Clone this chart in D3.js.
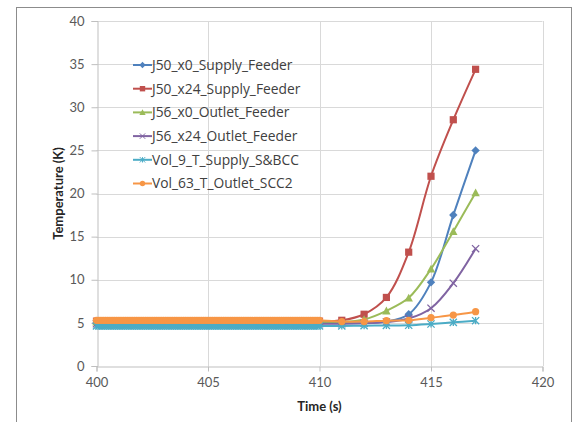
<!DOCTYPE html>
<html>
<head>
<meta charset="utf-8">
<script src="https://cdn.jsdelivr.net/npm/d3@7"></script>
<style>
  html, body { margin: 0; padding: 0; background: #fff; }
  svg { display: block; font-family: Lato, "Open Sans", sans-serif; }
</style>
</head>
<body>
<svg id="chart" width="574" height="422"></svg>
<script>
// Series names (legend order)
const seriesNames = [
  "J50_x0_Supply_Feeder",
  "J50_x24_Supply_Feeder",
  "J56_x0_Outlet_Feeder",
  "J56_x24_Outlet_Feeder",
  "Vol_9_T_Supply_S&BCC",
  "Vol_63_T_Outlet_SCC2"
];

// Steady period 400–410 s, sampled every 0.1 s, at each series' constant level (K)
const steadyTimes = d3.range(0, 101).map(i => 400 + i / 10);
const steadyLevels = [4.95, 5.2, 5.1, 4.9, 4.65, 5.3];

// Transient period 411–417 s, one sample per second (K)
const transientTimes = [411, 412, 413, 414, 415, 416, 417];
const j50x0Supply   = [4.95, 5.0, 5.15, 6.0, 9.7, 17.5, 25.0];
const j50x24Supply  = [5.3, 6.0, 7.95, 13.2, 22.0, 28.55, 34.4];
const j56x0Outlet   = [5.1, 5.4, 6.4, 7.9, 11.25, 15.6, 20.1];
const j56x24Outlet  = [4.9, 4.95, 5.1, 5.5, 6.7, 9.6, 13.6];
const vol9Supply    = [4.65, 4.68, 4.7, 4.72, 4.87, 5.06, 5.25];
const vol63Outlet   = [5.15, 5.15, 5.25, 5.3, 5.6, 5.9, 6.3];
const transientValues = [j50x0Supply, j50x24Supply, j56x0Outlet, j56x24Outlet, vol9Supply, vol63Outlet];

// Axis ticks
const xTicks = [400, 405, 410, 415, 420];
const yTicks = [0, 5, 10, 15, 20, 25, 30, 35, 40];

const colors = ["#4F81BD", "#C0504D", "#9BBB59", "#8064A2", "#4BACC6", "#F79646"];
const markerKinds = ["diamond", "square", "triangle", "x", "star", "circle"];

const series = seriesNames.map((name, s) => ({
  name,
  color: colors[s],
  marker: markerKinds[s],
  points: steadyTimes.map(t => ({ t, v: steadyLevels[s] }))
    .concat(transientTimes.map((t, i) => ({ t, v: transientValues[s][i] })))
}));

const svg = d3.select("#chart");
const plot = { left: 96.5, right: 542.5, top: 21, bottom: 366 };

const x = d3.scaleLinear().domain([400, 420]).range([plot.left, plot.right]);
const y = d3.scaleLinear().domain([0, 40]).range([plot.bottom, plot.top]);

// Chart area frame
svg.append("rect")
  .attr("x", 16.5).attr("y", 7.5)
  .attr("width", 555).attr("height", 430)
  .attr("fill", "#fff").attr("stroke", "#8c8c8c").attr("stroke-width", 1);

// Gridlines
const grid = svg.append("g").attr("stroke", "#d9d9d9").attr("stroke-width", 1);
grid.selectAll("line.h").data(yTicks.filter(d => d > 0)).join("line")
  .attr("x1", plot.left).attr("x2", plot.right)
  .attr("y1", d => Math.round(y(d)) + 0.5).attr("y2", d => Math.round(y(d)) + 0.5);
grid.selectAll("line.v").data(xTicks.filter(d => d > 400)).join("line")
  .attr("y1", plot.top).attr("y2", plot.bottom)
  .attr("x1", d => Math.round(x(d)) + 0.5).attr("x2", d => Math.round(x(d)) + 0.5);

// Axes
const xAxis = d3.axisBottom(x).tickValues(xTicks).tickSize(5).tickPadding(6).tickFormat(d3.format("d"));
const yAxis = d3.axisLeft(y).tickValues(yTicks).tickSize(6).tickPadding(7).tickFormat(d3.format("d"));

const gx = svg.append("g").attr("transform", `translate(0,${Math.round(plot.bottom) + 0.5})`).call(xAxis);
const gy = svg.append("g").attr("transform", `translate(${Math.round(plot.left) + 0.5},0)`).call(yAxis);
[gx, gy].forEach(g => {
  g.select(".domain").attr("stroke", "#bfbfbf");
  g.selectAll(".tick line").attr("stroke", "#bfbfbf");
  g.selectAll(".tick text").attr("fill", "#595959").style("font-size", "13px").style("font-family", "Lato, sans-serif");
});

// Axis titles
svg.append("text")
  .attr("x", (plot.left + plot.right) / 2).attr("y", 411)
  .attr("text-anchor", "middle")
  .style("font-size", "13px").style("font-weight", "bold").attr("fill", "#262626")
  .text("Time (s)");
svg.append("text")
  .attr("transform", `translate(63,${(plot.top + plot.bottom) / 2}) rotate(-90)`)
  .attr("text-anchor", "middle")
  .style("font-size", "13px").style("font-weight", "bold").attr("fill", "#262626")
  .text("Temperature (K)");

// Marker drawing
function drawMarker(sel, kind, color) {
  const r = 3.6;
  if (kind === "diamond") {
    sel.append("path").attr("d", `M0,${-r - 0.6}L${r + 0.6},0L0,${r + 0.6}L${-r - 0.6},0Z`).attr("fill", color);
  } else if (kind === "square") {
    sel.append("rect").attr("x", -r).attr("y", -r).attr("width", 2 * r).attr("height", 2 * r).attr("fill", color);
  } else if (kind === "triangle") {
    sel.append("path").attr("d", `M0,${-r - 0.6}L${r + 0.6},${r}L${-r - 0.6},${r}Z`).attr("fill", color);
  } else if (kind === "x") {
    sel.append("path").attr("d", `M${-r},${-r}L${r},${r}M${-r},${r}L${r},${-r}`)
      .attr("stroke", color).attr("stroke-width", 1.3).attr("fill", "none");
  } else if (kind === "star") {
    sel.append("path").attr("d", `M${-r},${-r}L${r},${r}M${-r},${r}L${r},${-r}M0,${-r}L0,${r}`)
      .attr("stroke", color).attr("stroke-width", 1.3).attr("fill", "none");
  } else {
    sel.append("circle").attr("r", r).attr("fill", color);
  }
}

const line = d3.line().x(d => x(d.t)).y(d => y(d.v)).curve(d3.curveCatmullRom.alpha(0.5));

const marks = svg.append("g");
series.forEach(s => {
  const g = marks.append("g");
  g.append("path").datum(s.points)
    .attr("d", line).attr("fill", "none")
    .attr("stroke", s.color).attr("stroke-width", 2);
  g.selectAll("g.m").data(s.points).join("g")
    .attr("transform", d => `translate(${x(d.t)},${y(d.v)})`)
    .each(function () { drawMarker(d3.select(this), s.marker, s.color); });
});

// Legend
const legend = svg.append("g").attr("transform", "translate(133,65)");
series.forEach((s, i) => {
  const row = legend.append("g").attr("transform", `translate(0,${i * 23.7})`);
  row.append("line").attr("x1", 0).attr("x2", 19).attr("y1", 0).attr("y2", 0)
    .attr("stroke", s.color).attr("stroke-width", 2);
  const m = row.append("g").attr("transform", "translate(9.5,0) scale(0.75)");
  drawMarker(m, s.marker, s.color);
  row.append("text").attr("x", 19).attr("y", 0).attr("dy", "0.36em")
    .style("font-size", "13.8px").style("font-family", "'Open Sans', sans-serif").attr("fill", "#404040")
    .text(s.name);
});
</script>
</body>
</html>
